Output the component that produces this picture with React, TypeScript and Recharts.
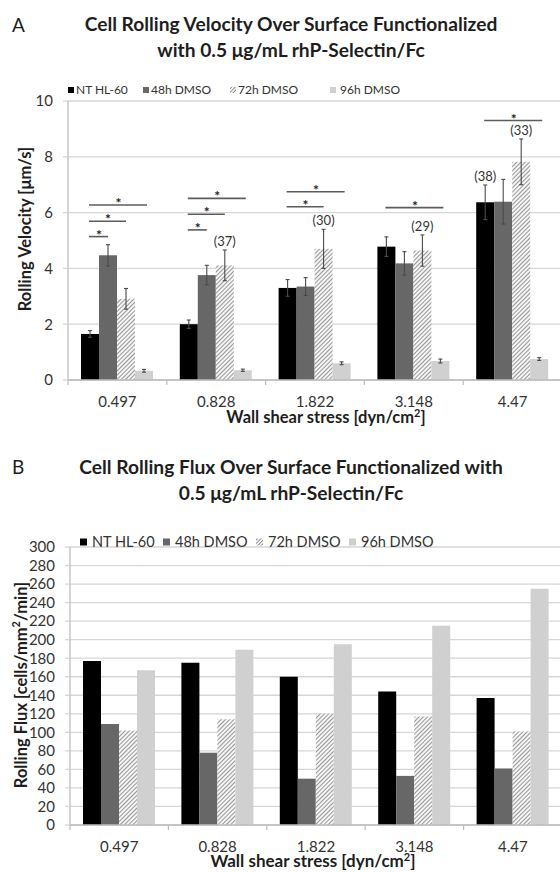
import React from "react";
import { Bar, BarChart, CartesianGrid, ErrorBar, XAxis, YAxis } from "recharts";

const FONT = "Lato, 'Open Sans', 'DejaVu Sans', sans-serif";
const GRID = "#d6d6d6";
const AXIS = "#bdbdbd";
const TEXT = "#333333";

const categories = ["0.497", "0.828", "1.822", "3.148", "4.47"];
const seriesNames = ["NT HL-60", "48h DMSO", "72h DMSO", "96h DMSO"];

// A: rolling velocity [µm/s], mean and error
const velNT = [1.65, 2.0, 3.3, 4.78, 6.37];
const vel48 = [4.47, 3.76, 3.35, 4.18, 6.39];
const vel72 = [2.91, 4.11, 4.7, 4.64, 7.82];
const vel96 = [0.33, 0.35, 0.6, 0.68, 0.75];
const errNT = [0.12, 0.15, 0.3, 0.35, 0.62];
const err48 = [0.38, 0.35, 0.32, 0.42, 0.8];
const err72 = [0.37, 0.55, 0.7, 0.56, 0.82];
const err96 = [0.05, 0.04, 0.05, 0.07, 0.05];
const countsNT = [null, null, null, null, 38];
const counts72 = [null, 37, 30, 29, 33];
// significance bars: [category index, compared series index, height in µm/s]
const sigBrackets = [
  [0, 1, 5.14], [0, 2, 5.69], [0, 3, 6.27],
  [1, 1, 5.38], [1, 2, 5.94], [1, 3, 6.51],
  [2, 2, 6.21], [2, 3, 6.75],
  [3, 3, 6.18],
  [4, 3, 9.3],
];
const velTicks = [0, 2, 4, 6, 8, 10];
const velMinor = [1, 3, 5, 7, 9];

// B: rolling flux [cells/mm2/min]
const fluxNT = [177, 175, 160, 144, 137];
const flux48 = [109, 78, 50, 53, 61];
const flux72 = [102, 114, 120, 117, 101];
const flux96 = [167, 189, 195, 215, 255];
const fluxTicks = [0, 20, 40, 60, 80, 100, 120, 140, 160, 180, 200, 220, 240, 260, 280, 300];
const fluxMinor = [10, 30, 50, 70, 90, 110, 130, 150, 170, 190, 210, 230, 250, 270, 290];

const velData = categories.map((cat, i) => ({
  cat,
  nt: velNT[i], ntE: errNT[i],
  d48: vel48[i], d48E: err48[i],
  d72: vel72[i], d72E: err72[i],
  d96: vel96[i], d96E: err96[i],
}));

const fluxData = categories.map((cat, i) => ({
  cat, nt: fluxNT[i], d48: flux48[i], d72: flux72[i], d96: flux96[i],
}));

const keys = ["nt", "d48", "d72", "d96"];

function Hatch({ id, size = 3 }: { id: string; size?: number }) {
  return (
    <pattern id={id} patternUnits="userSpaceOnUse" width={size} height={size} patternTransform="rotate(45)">
      <rect width={size} height={size} fill="#f4f4f4" />
      <line x1={0} y1={0} x2={0} y2={size} stroke="#5a5a5a" strokeWidth={1.2} />
    </pattern>
  );
}

function fills(hatchId: string) {
  return ["#000000", "#676767", `url(#${hatchId})`, "#d0d0d0"];
}

// bar with optional "(n)" label and significance lines, positioned from the bar's own scale
function velShape(key: string, counts: (number | null)[] | null, brackets: boolean) {
  return (p: any) => {
    const { x, y, width, height, fill } = p;
    const idx = p.index ?? categories.indexOf(p.payload?.cat);
    const row: any = p.payload ?? velData[idx];
    const v = row[key];
    const e = row[key + "E"] ?? 0;
    const base = y + height;
    const k = v > 0 ? height / v : 0;
    const cx = x + width / 2;
    const out: React.ReactNode[] = [
      <rect key="r" x={x} y={y} width={width} height={height} fill={fill} />,
    ];
    const n = counts ? counts[idx] : null;
    if (n != null) {
      out.push(
        <text key="n" x={cx} y={base - (v + e) * k - 4} textAnchor="middle" fontSize={13} fill={TEXT} fontFamily={FONT}>
          ({n})
        </text>
      );
    }
    if (brackets) {
      sigBrackets
        .filter((b) => b[0] === idx)
        .forEach(([, s, h], j) => {
          const ly = base - h * k;
          const x2 = cx + width * s + (s === 3 ? 3 : 0);
          out.push(<line key={"l" + j} x1={cx - 1} x2={x2} y1={ly} y2={ly} stroke="#5c5c5c" strokeWidth={1.6} />);
          out.push(
            <text key={"s" + j} x={(cx + x2) / 2} y={ly + 3} textAnchor="middle" fontSize={14} fontWeight={700} fill="#222" fontFamily={FONT}>
              *
            </text>
          );
        });
    }
    return <g>{out}</g>;
  };
}

function makeCatTick(band: number) {
  return (p: any) => {
    const { x, y, payload, index } = p;
    const half = payload?.offset ?? band / 2;
    return (
      <g>
        <line x1={x - half} x2={x - half} y1={y} y2={y + 5} stroke={AXIS} strokeWidth={1.2} />
        {index === categories.length - 1 && (
          <line x1={x + half} x2={x + half} y1={y} y2={y + 5} stroke={AXIS} strokeWidth={1.2} />
        )}
        <text x={x} y={y + 26.5} textAnchor="middle" fontSize={15} fill={TEXT} fontFamily={FONT}>
          {payload.value}
        </text>
      </g>
    );
  };
}

const emptyTick = () => <g />;

function Legend({ y, marks, texts, size, fontSize, hatchId }: { y: number; marks: number[]; texts: number[]; size: number; fontSize: number; hatchId: string }) {
  const f = fills(hatchId);
  return (
    <g>
      {seriesNames.map((name, i) => (
        <g key={name}>
          <rect x={marks[i]} y={y - size / 2} width={size} height={size} fill={f[i]} />
          <text x={texts[i]} y={y + fontSize * 0.36} fontSize={fontSize} fill={TEXT} fontFamily={FONT}>
            {name}
          </text>
        </g>
      ))}
    </g>
  );
}

function VelocityChart() {
  const f = fills("hatchA");
  return (
    <BarChart
      width={570}
      height={345}
      data={velData}
      margin={{ top: 21, right: 8, bottom: 0, left: 0 }}
      barGap={0}
      barSize={18}
    >
      <defs>
        <Hatch id="hatchA" />
      </defs>
      <CartesianGrid vertical={false} stroke={GRID} strokeWidth={1.3} />
      <XAxis
        dataKey="cat"
        interval={0}
        height={45}
        tickLine={false}
        tickSize={0}
        tickMargin={0}
        axisLine={{ stroke: AXIS, strokeWidth: 1.3 }}
        tick={makeCatTick(494 / 5)}
      />
      <YAxis
        width={68}
        domain={[0, 10]}
        ticks={velTicks}
        interval={0}
        tickSize={5}
        tickMargin={10}
        tickLine={{ stroke: GRID, strokeWidth: 1.3 }}
        axisLine={{ stroke: AXIS, strokeWidth: 1.3 }}
        tick={{ fontSize: 15, fill: TEXT, fontFamily: FONT }}
      />
      <YAxis
        yAxisId="minor"
        mirror
        width={0}
        domain={[0, 10]}
        allowDataOverflow
        ticks={velMinor}
        interval={0}
        tickSize={4}
        axisLine={false}
        tickLine={{ stroke: AXIS, strokeWidth: 1 }}
        tick={emptyTick}
      />
      {keys.map((k, i) => (
        <Bar
          key={k}
          dataKey={k}
          fill={f[i]}
          isAnimationActive={false}
          shape={velShape(k, i === 0 ? countsNT : i === 2 ? counts72 : null, i === 0)}
        >
          <ErrorBar dataKey={k + "E"} width={2} stroke="#4a4a4a" strokeWidth={1.1} />
        </Bar>
      ))}
    </BarChart>
  );
}

function FluxChart() {
  const f = fills("hatchB");
  return (
    <BarChart
      width={570}
      height={352}
      data={fluxData}
      margin={{ top: 27, right: 8, bottom: 0, left: 0 }}
      barGap={0}
      barSize={18}
    >
      <defs>
        <Hatch id="hatchB" />
      </defs>
      <CartesianGrid vertical={false} stroke={GRID} strokeWidth={1.3} />
      <XAxis
        dataKey="cat"
        interval={0}
        height={47}
        tickLine={false}
        tickSize={0}
        tickMargin={0}
        axisLine={{ stroke: AXIS, strokeWidth: 1.3 }}
        tick={makeCatTick(492 / 5)}
      />
      <YAxis
        width={70}
        domain={[0, 300]}
        ticks={fluxTicks}
        interval={0}
        tickSize={5}
        tickMargin={10}
        tickLine={{ stroke: GRID, strokeWidth: 1.3 }}
        axisLine={{ stroke: AXIS, strokeWidth: 1.3 }}
        tick={{ fontSize: 15, fill: TEXT, fontFamily: FONT }}
      />
      <YAxis
        yAxisId="minor"
        mirror
        width={0}
        domain={[0, 300]}
        allowDataOverflow
        ticks={fluxMinor}
        interval={0}
        tickSize={4}
        axisLine={false}
        tickLine={{ stroke: AXIS, strokeWidth: 1 }}
        tick={emptyTick}
      />
      {keys.map((k, i) => (
        <Bar key={k} dataKey={k} fill={f[i]} isAnimationActive={false} />
      ))}
    </BarChart>
  );
}

export default function App() {
  const title = { fontFamily: FONT, fontWeight: 700, fill: "#1e1e1e" } as const;
  return (
    <div style={{ position: "fixed", left: 0, top: 0, width: 560, height: 872, overflow: "hidden", background: "#fff" }}>
      <div style={{ position: "absolute", left: 0, top: 80 }}>
        <VelocityChart />
      </div>
      <div style={{ position: "absolute", left: 0, top: 520 }}>
        <FluxChart />
      </div>
      <svg width={560} height={872} style={{ position: "absolute", left: 0, top: 0, pointerEvents: "none" }}>
        <defs>
          <Hatch id="hatchL" size={2.5} />
        </defs>
        <text x={12} y={32} fontSize={19} fontFamily={FONT} fill="#1e1e1e">A</text>
        <text x={291} y={31} textAnchor="middle" fontSize={19.2} {...title}>
          Cell Rolling Velocity Over Surface Functionalized
        </text>
        <text x={291} y={57} textAnchor="middle" fontSize={19.2} {...title}>
          with 0.5 μg/mL rhP-Selectin/Fc
        </text>
        <Legend y={90} marks={[68, 143, 230, 330]} texts={[76, 151, 238, 340]} size={6} fontSize={12} hatchId="hatchL" />
        <text x={0} y={0} transform="translate(25,229) rotate(-90)" textAnchor="middle" dominantBaseline="central" fontSize={16.5} {...title}>
          Rolling Velocity [μm/s]
        </text>
        <text x={326} y={423} textAnchor="middle" fontSize={16.5} {...title}>
          Wall shear stress [dyn/cm<tspan fontSize={11} dy={-6}>2</tspan><tspan dy={6}>]</tspan>
        </text>

        <text x={12} y={474} fontSize={19} fontFamily={FONT} fill="#1e1e1e">B</text>
        <text x={291} y={474} textAnchor="middle" fontSize={19.2} {...title}>
          Cell Rolling Flux Over Surface Functionalized with
        </text>
        <text x={291} y={500} textAnchor="middle" fontSize={19.2} {...title}>
          0.5 μg/mL rhP-Selectin/Fc
        </text>
        <Legend y={542} marks={[80, 163, 256, 349]} texts={[92, 175, 268, 361]} size={7} fontSize={14.5} hatchId="hatchL" />
        <text x={0} y={0} transform="translate(21,685) rotate(-90)" textAnchor="middle" dominantBaseline="central" fontSize={16.5} {...title}>
          Rolling Flux [cells/mm<tspan fontSize={11} dy={-6}>2</tspan><tspan dy={6}>/min]</tspan>
        </text>
        <text x={313} y={867} textAnchor="middle" fontSize={17} {...title}>
          Wall shear stress [dyn/cm<tspan fontSize={11} dy={-6}>2</tspan><tspan dy={6}>]</tspan>
        </text>
      </svg>
    </div>
  );
}
